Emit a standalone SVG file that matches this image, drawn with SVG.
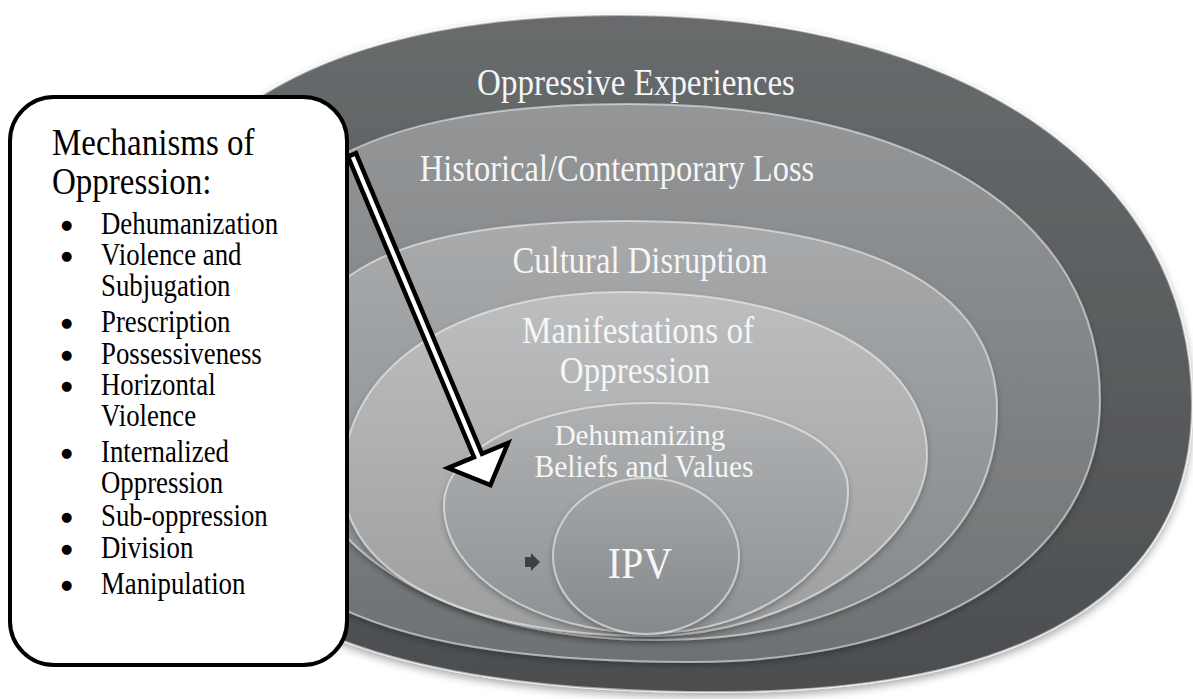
<svg xmlns="http://www.w3.org/2000/svg" width="1193" height="699" viewBox="0 0 1193 699">
<style>
.ring{stroke:#ffffff;stroke-opacity:.5;stroke-width:2}
.lbl{font-family:"Liberation Serif","Times New Roman",serif;fill:#f6f6f6;text-anchor:middle}
.box{font-family:"Liberation Serif","Times New Roman",serif;fill:#000}
.bul{font-family:"DejaVu Sans",sans-serif;fill:#000;font-size:13px}
</style>
<defs>
<filter id="sh" x="-10%" y="-10%" width="120%" height="125%"><feDropShadow dx="0" dy="4" stdDeviation="4" flood-color="#000" flood-opacity=".35"/></filter>
<filter id="sh2" x="-10%" y="-10%" width="120%" height="125%"><feDropShadow dx="0" dy="3" stdDeviation="3" flood-color="#000" flood-opacity=".3"/></filter>
<linearGradient id="g1" x1="0" y1="0" x2="0" y2="1"><stop offset="0" stop-color="#686b6d"/><stop offset="1" stop-color="#4b4e50"/></linearGradient>
<linearGradient id="g2" x1="0" y1="0" x2="0" y2="1"><stop offset="0" stop-color="#949698"/><stop offset="1" stop-color="#6e7173"/></linearGradient>
<linearGradient id="g3" x1="0" y1="0" x2="0" y2="1"><stop offset="0" stop-color="#a8aaac"/><stop offset="1" stop-color="#85888a"/></linearGradient>
<linearGradient id="g4" x1="0" y1="0" x2="0" y2="1"><stop offset="0" stop-color="#bcbebf"/><stop offset="1" stop-color="#9c9ea0"/></linearGradient>
<linearGradient id="g5" x1="0" y1="0" x2="0" y2="1"><stop offset="0" stop-color="#aeb0b2"/><stop offset="1" stop-color="#8f9294"/></linearGradient>
<linearGradient id="g6" x1="0" y1="0" x2="0" y2="1"><stop offset="0" stop-color="#a3a5a7"/><stop offset="1" stop-color="#86898b"/></linearGradient>
</defs>
<rect width="1193" height="699" fill="#ffffff"/>
<g id="oppressive-experiences">
<path class="ring" filter="url(#sh)" fill="url(#g1)" d="M620,15 C963,15 1192,171 1192,405 C1192,592 1027,692 720,692 C307,692 130,583 130,330 C130,130 310,15 620,15 Z"/>
<text class="lbl" style="font-size:33px" transform="translate(636,95) scale(1,1.15)">Oppressive Experiences</text>
</g>
<g id="historical-loss">
<path class="ring" filter="url(#sh2)" fill="url(#g2)" d="M630,104 C921,104 1100,217 1100,400 C1100,557 936,662 690,662 C354,662 210,583 210,400 C210,193 336,104 630,104 Z"/>
<text class="lbl" style="font-size:32.5px" transform="translate(617,181) scale(1,1.15)">Historical/Contemporary Loss</text>
</g>
<g id="cultural-disruption">
<path class="ring" filter="url(#sh2)" fill="url(#g3)" d="M625,221 C867,221 997,287 997,410 C997,548 862,640 660,640 C438,640 290,544 290,400 C290,275 390,221 625,221 Z"/>
<text class="lbl" style="font-size:32.7px" transform="translate(640,273) scale(1,1.15)">Cultural Disruption</text>
</g>
<g id="manifestations">
<path class="ring" filter="url(#sh2)" fill="url(#g4)" d="M625,292 C806,292 927,357 927,455 C927,546 789,636 650,636 C466,636 343,574 343,480 C343,367 456,292 625,292 Z"/>
<text class="lbl" style="font-size:33px" transform="translate(638,343) scale(1,1.15)">Manifestations of</text>
<text class="lbl" style="font-size:33px" transform="translate(635,383) scale(1,1.15)">Oppression</text>
</g>
<g id="dehumanizing-beliefs">
<path class="ring" filter="url(#sh2)" fill="url(#g5)" d="M650,403 C769,403 848,438 848,490 C848,566 759,633 650,633 C536,633 444,575 444,505 C444,449 537,403 650,403 Z"/>
<text class="lbl" style="font-size:29px" transform="translate(640,445) scale(1,1.05)">Dehumanizing</text>
<text class="lbl" style="font-size:29.5px" transform="translate(644,477) scale(1,1.05)">Beliefs and Values</text>
</g>
<g id="ipv">
<ellipse class="ring" filter="url(#sh2)" fill="url(#g6)" cx="646" cy="556" rx="93" ry="78"/>
<text class="lbl" style="font-size:40px" transform="translate(640,578) scale(1,1.1)">IPV</text>
</g>
<g id="mechanisms">
<rect x="10" y="97" width="337" height="568" rx="44" fill="#ffffff" stroke="#000" stroke-width="4"/>
<text class="box" style="font-size:33px" transform="translate(52,155) scale(1,1.15)">Mechanisms of</text>
<text class="box" style="font-size:33px" transform="translate(52,194) scale(1,1.15)">Oppression:</text>
<g class="box" style="font-size:26.8px">
<text class="bul" x="61" y="229">●</text><text transform="translate(101,234) scale(1,1.15)">Dehumanization</text>
<text class="bul" x="61" y="260">●</text><text transform="translate(101,265) scale(1,1.15)">Violence and</text>
<text transform="translate(101,296) scale(1,1.15)">Subjugation</text>
<text class="bul" x="61" y="327">●</text><text transform="translate(101,332) scale(1,1.15)">Prescription</text>
<text class="bul" x="61" y="359">●</text><text transform="translate(101,364) scale(1,1.15)">Possessiveness</text>
<text class="bul" x="61" y="390">●</text><text transform="translate(101,395) scale(1,1.15)">Horizontal</text>
<text transform="translate(101,426) scale(1,1.15)">Violence</text>
<text class="bul" x="61" y="457">●</text><text transform="translate(101,462) scale(1,1.15)">Internalized</text>
<text transform="translate(101,493) scale(1,1.15)">Oppression</text>
<text class="bul" x="61" y="521">●</text><text transform="translate(101,526) scale(1,1.15)">Sub-oppression</text>
<text class="bul" x="61" y="553">●</text><text transform="translate(101,558) scale(1,1.15)">Division</text>
<text class="bul" x="61" y="589">●</text><text transform="translate(101,594) scale(1,1.15)">Manipulation</text>
</g>
</g>
<g id="connectors">
<polygon points="356,153.3 482,453.8 508,443 490.4,485 448,468 474,457.2 348,156.7" fill="#ffffff" stroke="#000" stroke-width="4.5" stroke-linejoin="miter"/>
<polygon points="525,557 531,557 531,553 540,562 531,571 531,567 525,567" fill="#3d4042"/>
</g>
</svg>
